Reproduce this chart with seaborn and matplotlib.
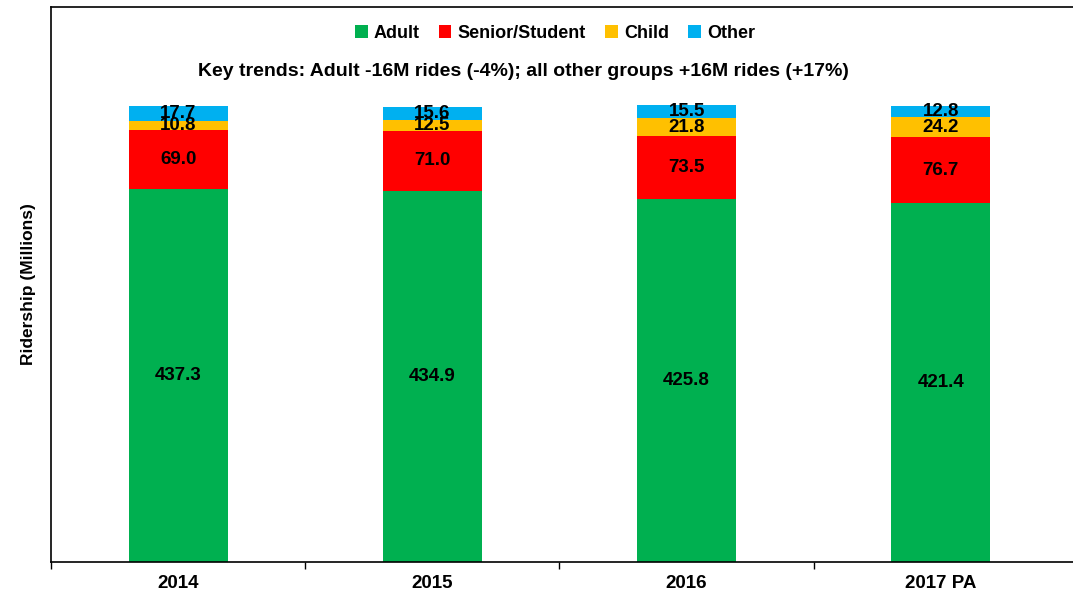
import matplotlib
matplotlib.use("Agg")
import matplotlib.pyplot as plt
import seaborn as sns
import numpy as np
import pandas as pd
from matplotlib.patches import Patch

# Ridership by fare group, millions of rides
years = ["2014", "2015", "2016", "2017 PA"]
adult = [437.3, 434.9, 425.8, 421.4]
senior_student = [69.0, 71.0, 73.5, 76.7]
child = [10.8, 12.5, 21.8, 24.2]
other = [17.7, 15.6, 15.5, 12.8]

groups = ["Adult", "Senior/Student", "Child", "Other"]
colors = ["#00B050", "#FF0000", "#FFC000", "#00B0F0"]
trend_note = "Key trends: Adult -16M rides (-4%); all other groups +16M rides (+17%)"

sns.set_theme(style="white")
plt.rcParams["font.family"] = ["Liberation Sans", "DejaVu Sans"]
plt.rcParams["font.weight"] = "bold"
plt.rcParams["text.color"] = "black"
plt.rcParams["axes.labelcolor"] = "black"
plt.rcParams["xtick.color"] = "black"

fig = plt.figure(figsize=(10.73, 5.90), dpi=100)
ax = fig.add_axes([51 / 1073, 28 / 590, 1 - 51 / 1073, (583 - 28) / 590])

series = [adult, senior_student, child, other]
stack = np.cumsum(np.array(series), axis=0)

# Draw cumulative totals from the top layer down so each layer sits on the one below
for i in range(len(groups) - 1, -1, -1):
    df = pd.DataFrame({"year": years, "value": stack[i]})
    sns.barplot(data=df, x="year", y="value", color=colors[i], saturation=1,
                width=0.39, linewidth=0, ax=ax, order=years)

# Segment value labels
for j in range(len(years)):
    for i in range(len(groups)):
        bottom = stack[i - 1][j] if i > 0 else 0.0
        val = series[i][j]
        ax.text(j, bottom + val / 2, f"{val:.1f}", ha="center", va="center",
                fontsize=13.5, fontweight="bold", color="black")

ax.set_ylim(0, 651)
ax.set_xlim(-0.5, 3.52)
ax.set_yticks([])
ax.set_xlabel("")
ax.set_ylabel("Ridership (Millions)", fontsize=12.5, fontweight="bold", labelpad=11,
              color="black")
ax.set_xticks(range(len(years)))
ax.set_xticklabels(years, fontweight="bold", color="black")
ax.set_xticks([-0.5, 0.5, 1.5, 2.5], minor=True)
ax.tick_params(axis="x", which="major", bottom=True, length=0, labelsize=13.5, pad=9)
ax.tick_params(axis="x", which="minor", bottom=True, length=5, width=1,
               direction="out", color="black")

for side in ["left", "bottom", "top"]:
    ax.spines[side].set_visible(True)
    ax.spines[side].set_color("black")
    ax.spines[side].set_linewidth(1.2)
ax.spines["right"].set_visible(False)

handles = [Patch(facecolor=c, edgecolor="none", label=g) for g, c in zip(groups, colors)]
leg = ax.legend(handles=handles, loc="upper center", bbox_to_anchor=(0.493, 0.997), ncol=4,
                frameon=False, handlelength=0.7, handleheight=0.7,
                handletextpad=0.35, columnspacing=1.05,
                prop={"weight": "bold", "size": 13})
for t in leg.get_texts():
    t.set_color("black")

fig.text(523 / 1073, 1 - 72 / 590, trend_note, ha="center", va="center",
         fontsize=14, fontweight="bold", color="black")

fig.savefig("out.png", dpi=100)
